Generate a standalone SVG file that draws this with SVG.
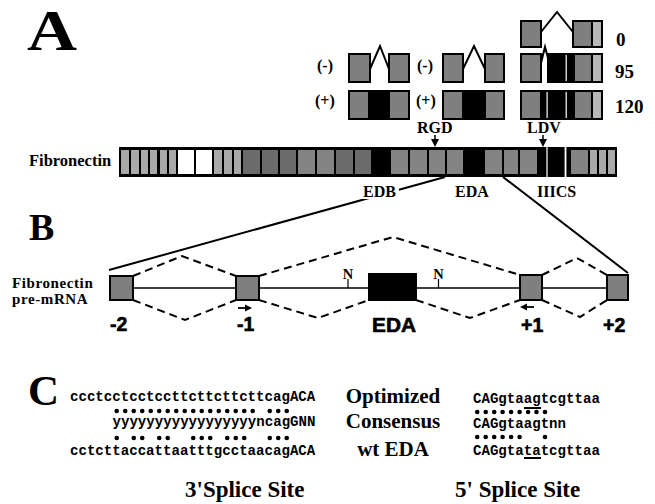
<svg xmlns="http://www.w3.org/2000/svg" width="655" height="504" viewBox="0 0 655 504">
<style>
.lbl{font-family:"Liberation Serif","Times New Roman",serif;font-weight:bold;fill:#000}
.num{font-family:"Liberation Sans",Arial,sans-serif;font-weight:bold;font-size:19.5px;fill:#000;stroke:#000;stroke-width:0.6}
.seq{font-family:"Liberation Mono","Courier New",monospace;font-weight:bold;font-size:14.1px;fill:#000}
.ex{stroke:#000;stroke-width:2}
.g{fill:#7f7f7f}
.lt{fill:#b8b8b8}
.bl{fill:#a9a9a9}
.bd{fill:#6b6b6b}
.bm{fill:#838383}
.bw{fill:#fff}
.dash{fill:none;stroke:#000;stroke-width:2;stroke-dasharray:8 5}
.solid{fill:none;stroke:#000;stroke-width:2}
.thin{fill:none;stroke:#000;stroke-width:1.5}
.chev{fill:none;stroke:#000;stroke-width:2;stroke-linejoin:miter}
.dot{fill:#000}
</style>
<rect width="655" height="504" fill="#fff"/>

<!-- Panel letters -->
<text class="lbl" x="27" y="50" font-size="56" textLength="50" lengthAdjust="spacingAndGlyphs">A</text>
<text class="lbl" x="29" y="240" font-size="38">B</text>
<text class="lbl" x="28" y="405" font-size="43">C</text>

<!-- Mini exon variants -->
<g id="variant-col1">
  <text class="lbl" x="317" y="71" font-size="16">(-)</text>
  <rect class="ex g" x="349" y="54" width="21" height="28"/>
  <rect class="ex g" x="389" y="54" width="20" height="28"/>
  <polyline class="chev" points="370,69 380,46 389,69"/>
  <text class="lbl" x="315" y="106" font-size="16">(+)</text>
  <rect class="ex" x="349" y="91" width="60" height="28" fill="#000"/>
  <rect class="g" x="350" y="92" width="18" height="26"/>
  <rect class="g" x="390" y="92" width="18" height="26"/>
</g>
<g id="variant-col2">
  <text class="lbl" x="417" y="71" font-size="16">(-)</text>
  <rect class="ex g" x="443" y="54" width="20" height="28"/>
  <rect class="ex g" x="485" y="54" width="19" height="28"/>
  <polyline class="chev" points="463,69 474,46 485,69"/>
  <text class="lbl" x="416" y="106" font-size="16">(+)</text>
  <rect class="ex" x="443" y="91" width="61" height="28" fill="#000"/>
  <rect class="g" x="444" y="92" width="18" height="26"/>
  <rect class="g" x="486" y="92" width="17" height="26"/>
</g>
<g id="variant-col3">
  <rect class="ex g" x="521" y="21" width="20" height="26"/>
  <rect class="ex" x="573" y="21" width="29" height="26" fill="#000"/>
  <rect class="g" x="574" y="22" width="17" height="24"/>
  <rect class="lt" x="593" y="22" width="8" height="24"/>
  <polyline class="chev" points="541,32 557,12 573,32"/>
  <text class="lbl" x="616" y="46" font-size="19">0</text>
  <rect class="ex g" x="521" y="54" width="20" height="28"/>
  <polyline class="chev" points="541,63 545,47 548,58"/>
  <rect class="ex" x="548" y="54" width="54" height="28" fill="#000"/>
  <rect fill="#fff" x="565.6" y="55" width="1.2" height="26"/>
  <rect class="g" x="575" y="55" width="16" height="26"/>
  <rect class="lt" x="593" y="55" width="8" height="26"/>
  <text class="lbl" x="615" y="78" font-size="19">95</text>
  <rect class="ex" x="521" y="91" width="81" height="28" fill="#000"/>
  <rect class="g" x="522" y="92" width="18" height="26"/>
  <rect fill="#fff" x="546.5" y="92" width="1.2" height="26"/>
  <rect fill="#fff" x="565.6" y="92" width="1.2" height="26"/>
  <rect class="g" x="575" y="92" width="16" height="26"/>
  <rect class="lt" x="593" y="92" width="8" height="26"/>
  <text class="lbl" x="615" y="113" font-size="19">120</text>
</g>

<!-- Fibronectin protein bar -->
<g id="fibronectin-bar">
  <text class="lbl" x="29" y="166" font-size="16.5">Fibronectin</text>
  <rect x="119" y="147" width="498" height="30" fill="#000"/>
  <rect class="bl" x="121" y="150" width="8" height="24"/>
  <rect class="bl" x="131" y="150" width="8" height="24"/>
  <rect class="bl" x="141" y="150" width="7" height="24"/>
  <rect class="bl" x="150" y="150" width="7" height="24"/>
  <rect class="bl" x="160" y="150" width="7" height="24"/>
  <rect class="bl" x="169" y="150" width="7" height="24"/>
  <rect class="bw" x="178" y="150" width="16" height="24"/>
  <rect class="bw" x="196" y="150" width="16" height="24"/>
  <rect class="bl" x="214" y="150" width="8" height="24"/>
  <rect class="bl" x="224" y="150" width="8" height="24"/>
  <rect class="bl" x="234" y="150" width="7" height="24"/>
  <rect class="bd" x="243" y="150" width="17" height="24"/>
  <rect class="bd" x="262" y="150" width="16" height="24"/>
  <rect class="bd" x="280" y="150" width="16" height="24"/>
  <rect class="bm" x="298" y="150" width="17" height="24"/>
  <rect class="bm" x="317" y="150" width="17" height="24"/>
  <rect class="bd" x="336" y="150" width="17" height="24"/>
  <rect class="bd" x="355" y="150" width="16" height="24"/>
  <rect class="bm" x="391" y="150" width="17" height="24"/>
  <rect class="bm" x="410" y="150" width="17" height="24"/>
  <rect class="bm" x="429" y="150" width="16" height="24"/>
  <rect class="bm" x="447" y="150" width="16" height="24"/>
  <rect class="bm" x="485" y="150" width="17" height="24"/>
  <rect class="bm" x="504" y="150" width="14" height="24"/>
  <rect class="bm" x="520" y="150" width="17" height="24"/>
  <rect fill="#fff" x="546.4" y="147" width="1.2" height="30"/>
  <rect fill="#fff" x="564.6" y="147" width="1.8" height="30"/>
  <rect class="bm" x="571" y="150" width="17" height="24"/>
  <rect class="bl" x="590" y="150" width="7" height="24"/>
  <rect class="bl" x="599" y="150" width="7" height="24"/>
  <rect class="bl" x="608" y="150" width="7" height="24"/>
</g>

<g id="site-rgd">
  <text class="lbl" x="417" y="133" font-size="16">RGD</text>
  <line x1="435" y1="135" x2="435" y2="141" stroke="#000" stroke-width="1.5"/>
  <polygon points="431,139 439,139 435,147" fill="#000"/>
</g>
<g id="site-ldv">
  <text class="lbl" x="527" y="133" font-size="16">LDV</text>
  <line x1="543" y1="135" x2="543" y2="141" stroke="#000" stroke-width="1.5"/>
  <polygon points="539,139 547,139 543,147" fill="#000"/>
</g>

<!-- Connectors -->
<g id="connectors">
  <line class="solid" x1="109" y1="270" x2="445" y2="177"/>
  <line class="solid" x1="503" y1="177" x2="628" y2="273"/>
  <line class="thin" x1="121" y1="288" x2="618" y2="288"/>
  <path class="dash" d="M133,276 L182,256 L236,276"/>
  <path class="dash" d="M133,300 L185,320 L236,300"/>
  <path class="dash" d="M259,276 L393,237 L520,275"/>
  <path class="dash" d="M259,300 L318,318 L369,300"/>
  <path class="dash" d="M416,300 L470,318 L520,300"/>
  <path class="dash" d="M542,275 L577,258 L607,275"/>
  <path class="dash" d="M542,300 L580,317 L607,300"/>
</g>

<g id="domain-labels">
  <rect x="362" y="184" width="37" height="15" fill="#fff"/>
  <text class="lbl" x="363" y="197" font-size="16">EDB</text>
  <text class="lbl" x="455" y="197" font-size="16">EDA</text>
  <text class="lbl" x="537" y="197" font-size="16">IIICS</text>
</g>

<!-- Pre-mRNA -->
<g id="premrna-label">
  <text class="lbl" x="12" y="288" font-size="15" letter-spacing="0.6">Fibronectin</text>
  <text class="lbl" x="12" y="304" font-size="15" letter-spacing="0.6">pre-mRNA</text>
</g>
<g id="exon-m2">
  <rect class="ex g" x="110" y="276" width="23" height="24"/>
  <text class="num" x="110" y="331">-2</text>
</g>
<g id="exon-m1">
  <rect class="ex g" x="236" y="276" width="23" height="24"/>
  <line x1="238" y1="308" x2="246" y2="308" stroke="#000" stroke-width="1.8"/>
  <polygon points="245,304.5 252,308 245,311.5" fill="#000"/>
  <text class="num" x="237" y="331">-1</text>
</g>
<g id="exon-eda">
  <rect class="ex" x="369" y="274" width="47" height="26" fill="#000"/>
  <text class="num" x="372" y="332" textLength="44" lengthAdjust="spacingAndGlyphs">EDA</text>
</g>
<g id="marker-n1">
  <line x1="348" y1="279" x2="348" y2="288" stroke="#000" stroke-width="1.2"/>
  <text class="lbl" x="348" y="279" font-size="14.5" text-anchor="middle">N</text>
</g>
<g id="marker-n2">
  <line x1="438.5" y1="279" x2="438.5" y2="288" stroke="#000" stroke-width="1.2"/>
  <text class="lbl" x="438.5" y="279" font-size="14.5" text-anchor="middle">N</text>
</g>
<g id="exon-p1">
  <rect class="ex g" x="520" y="275" width="22" height="25"/>
  <line x1="534" y1="307" x2="526" y2="307" stroke="#000" stroke-width="1.8"/>
  <polygon points="527,303.5 520,307 527,310.5" fill="#000"/>
  <text class="num" x="521" y="332">+1</text>
</g>
<g id="exon-p2">
  <rect class="ex g" x="607" y="275" width="21" height="25"/>
  <text class="num" x="603" y="332">+2</text>
</g>

<!-- Panel C -->
<g id="splice3">
  <text class="seq" x="70" y="401">ccctcctcctccttcttcttcttcagACA</text>
  <text class="seq" x="112.5" y="426">yyyyyyyyyyyyyyyyyncagGNN</text>
  <text class="seq" x="70" y="455">cctcttaccattaatttgcctaacagACA</text>
  <g class="dot">
    <circle cx="116.75" cy="411" r="2.3"/><circle cx="125.25" cy="411" r="2.3"/><circle cx="133.75" cy="411" r="2.3"/><circle cx="142.25" cy="411" r="2.3"/><circle cx="150.75" cy="411" r="2.3"/><circle cx="159.25" cy="411" r="2.3"/><circle cx="167.75" cy="411" r="2.3"/><circle cx="176.25" cy="411" r="2.3"/><circle cx="184.75" cy="411" r="2.3"/><circle cx="193.25" cy="411" r="2.3"/><circle cx="201.75" cy="411" r="2.3"/><circle cx="210.25" cy="411" r="2.3"/><circle cx="218.75" cy="411" r="2.3"/><circle cx="227.25" cy="411" r="2.3"/><circle cx="235.75" cy="411" r="2.3"/><circle cx="244.25" cy="411" r="2.3"/><circle cx="252.75" cy="411" r="2.3"/><circle cx="269.75" cy="411" r="2.3"/><circle cx="278.25" cy="411" r="2.3"/><circle cx="286.75" cy="411" r="2.3"/>
    <circle cx="116.75" cy="438" r="2.3"/><circle cx="133.75" cy="438" r="2.3"/><circle cx="142.25" cy="438" r="2.3"/><circle cx="159.25" cy="438" r="2.3"/><circle cx="167.75" cy="438" r="2.3"/><circle cx="193.25" cy="438" r="2.3"/><circle cx="201.75" cy="438" r="2.3"/><circle cx="210.25" cy="438" r="2.3"/><circle cx="227.25" cy="438" r="2.3"/><circle cx="235.75" cy="438" r="2.3"/><circle cx="244.25" cy="438" r="2.3"/><circle cx="269.75" cy="438" r="2.3"/><circle cx="278.25" cy="438" r="2.3"/><circle cx="286.75" cy="438" r="2.3"/>
  </g>
  <text class="lbl" x="185" y="497" font-size="23">3'Splice Site</text>
</g>
<g id="row-labels">
  <text class="lbl" x="393" y="403" font-size="21" text-anchor="middle">Optimized</text>
  <text class="lbl" x="393" y="428" font-size="21" text-anchor="middle">Consensus</text>
  <text class="lbl" x="393" y="456" font-size="21" text-anchor="middle">wt EDA</text>
</g>
<g id="splice5">
  <text class="seq" x="473" y="403">CAGgtaagtcgttaa</text>
  <line x1="524" y1="408" x2="541" y2="408" stroke="#000" stroke-width="2"/>
  <text class="seq" x="473" y="428">CAGgtaagtnn</text>
  <text class="seq" x="473" y="455">CAGgtatatcgttaa</text>
  <line x1="524" y1="458" x2="541" y2="458" stroke="#000" stroke-width="2"/>
  <g class="dot">
    <circle cx="477.2" cy="412" r="2.3"/><circle cx="485.7" cy="412" r="2.3"/><circle cx="494.2" cy="412" r="2.3"/><circle cx="502.6" cy="412" r="2.3"/><circle cx="511.1" cy="412" r="2.3"/><circle cx="519.6" cy="412" r="2.3"/><circle cx="528.1" cy="412" r="2.3"/><circle cx="536.5" cy="412" r="2.3"/><circle cx="545" cy="412" r="2.3"/>
    <circle cx="477.2" cy="437" r="2.3"/><circle cx="485.7" cy="437" r="2.3"/><circle cx="494.2" cy="437" r="2.3"/><circle cx="502.6" cy="437" r="2.3"/><circle cx="511.1" cy="437" r="2.3"/><circle cx="519.6" cy="437" r="2.3"/><circle cx="545" cy="437" r="2.3"/>
  </g>
  <text class="lbl" x="455" y="497" font-size="23">5' Splice Site</text>
</g>
</svg>
